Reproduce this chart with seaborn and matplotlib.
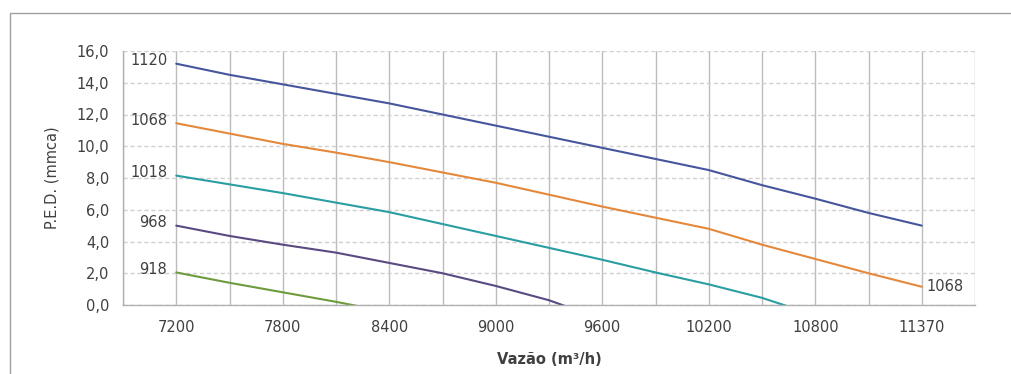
import pandas as pd
import matplotlib
matplotlib.use("Agg")
import matplotlib.pyplot as plt
import seaborn as sns
from matplotlib.patches import Rectangle

# Vazao categories (m3/h) - Excel style category axis
vazao = [7200, 7500, 7800, 8100, 8400, 8700, 9000, 9300, 9600,
         9900, 10200, 10500, 10800, 11100, 11370]

# P.E.D. (mmca) per rotation curve
rpm_labels = ["1120", "1068", "1018", "968", "918"]
ped_1120 = [15.2, 14.5, 13.9, 13.3, 12.7, 12.0, 11.3, 10.6, 9.9, 9.2, 8.5, 7.55, 6.7, 5.8, 5.0]
ped_1068 = [11.45, 10.8, 10.15, 9.6, 9.0, 8.35, 7.7, 6.95, 6.2, 5.5, 4.8, 3.8, 2.9, 2.0, 1.15]
ped_1018 = [8.15, 7.6, 7.05, 6.45, 5.85, 5.1, 4.35, 3.6, 2.85, 2.05, 1.3, 0.45, -0.65]
ped_968 = [5.0, 4.35, 3.8, 3.3, 2.65, 2.0, 1.2, 0.3, -0.9]
ped_918 = [2.05, 1.4, 0.8, 0.2, -0.45]

colors = ["#46569c", "#e4883c", "#2a9ea2", "#5a4a82", "#6e9c3c"]
text_color = "#404040"

series = [ped_1120, ped_1068, ped_1018, ped_968, ped_918]
rows = []
for lab, vals in zip(rpm_labels, series):
    for i, v in enumerate(vals):
        rows.append({"pos": i, "ped": v, "rpm": lab})
df = pd.DataFrame(rows)

sns.set_theme(style="white")
plt.rcParams['font.family'] = ['DejaVu Sans']

fig = plt.figure(figsize=(10.11, 3.74), dpi=100)
ax = fig.add_axes([123 / 1011, 1 - 305 / 374, (975 - 123) / 1011, (305 - 51) / 374])

sns.lineplot(data=df, x="pos", y="ped", hue="rpm", hue_order=rpm_labels,
             palette=colors, linewidth=1.5, legend=False, ax=ax)

ax.set_xlim(-1, len(vazao))
ax.set_ylim(0, 16)

# gridlines
ax.set_xticks(range(-1, len(vazao) + 1))
ax.set_xticklabels(["" if (i < 0 or i >= len(vazao) or i % 2) else str(vazao[i])
                    for i in range(-1, len(vazao) + 1)])
ax.set_yticks([0, 2, 4, 6, 8, 10, 12, 14, 16])
ax.set_yticklabels([f"{v:.1f}".replace(".", ",") for v in [0, 2, 4, 6, 8, 10, 12, 14, 16]])
ax.grid(axis="x", color="#bcbcbc", linewidth=1.0, linestyle="-")
ax.grid(axis="y", color="#d0d0d0", linewidth=1.0, linestyle=(0, (3, 2)))
ax.set_axisbelow(True)

for side in ["top", "right"]:
    ax.spines[side].set_visible(False)
for side in ["left", "bottom"]:
    ax.spines[side].set_color("#b0b0b0")
    ax.spines[side].set_linewidth(1.0)

ax.tick_params(axis="both", length=4, color="#b0b0b0", labelsize=10.5,
               labelcolor=text_color, pad=6)
ax.tick_params(axis="x", pad=7)

ax.set_xlabel("Vazão (m³/h)", fontsize=10.5, fontweight="bold", color=text_color, labelpad=12)
ax.set_ylabel("P.E.D. (mmca)", fontsize=10.5, color=text_color, labelpad=12)

# curve labels
for lab, vals in zip(rpm_labels, series):
    ax.annotate(lab, (0, vals[0]), xytext=(-9, 3), textcoords="offset pixels",
                ha="right", va="center", fontsize=10.5, color=text_color)
ax.annotate(rpm_labels[1], (len(ped_1068) - 1, ped_1068[-1]), xytext=(5, 0),
            textcoords="offset pixels", ha="left", va="center", fontsize=10.5, color=text_color)

# chart area border
fig.add_artist(Rectangle((10 / 1011, -0.1), 1.1, 1.1 - 13 / 374,
                         transform=fig.transFigure, fill=False,
                         edgecolor="#a0a0a0", linewidth=1.0))

fig.savefig("out.png", dpi=100)
